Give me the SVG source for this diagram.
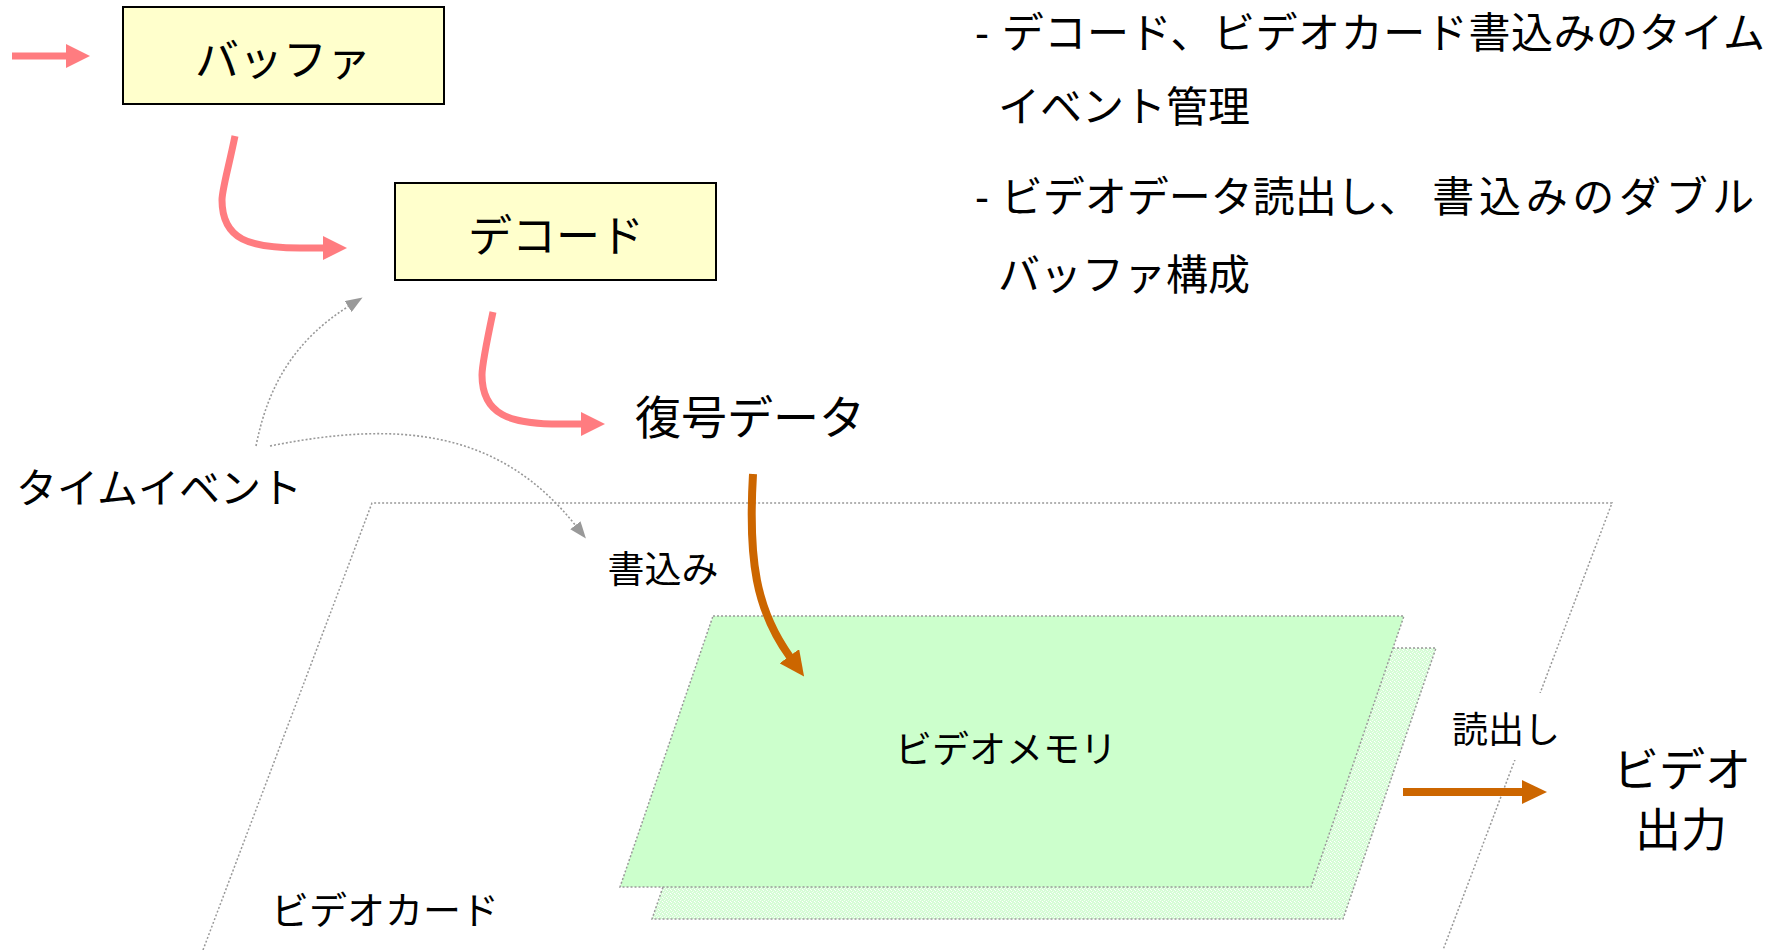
<svg xmlns="http://www.w3.org/2000/svg" width="1778" height="950" viewBox="0 0 1778 950">
<defs>
<style>
text{font-family:"Noto Sans CJK JP","Noto Sans",sans-serif;fill:#000}
.lbl{text-anchor:middle}
.box{fill:#FFFFCC;stroke:#000;stroke-width:2}
.dot{fill:none;stroke:#999;stroke-width:1.5;stroke-dasharray:2 2}
.pink{fill:none;stroke:#FF7C80;stroke-width:7}
.orng{fill:none;stroke:#CC6600;stroke-width:8}
.gray{fill:none;stroke:#999;stroke-width:1.6;stroke-dasharray:2 2}
.bul{font-family:"Liberation Sans","Noto Sans CJK JP",sans-serif}
</style>
<marker id="mp" viewBox="0 0 24 24" markerWidth="24" markerHeight="24" refX="1" refY="12" orient="auto" markerUnits="userSpaceOnUse"><path d="M0,0 L24,12 L0,24 z" fill="#FF7C80"/></marker>
<marker id="mo" viewBox="0 0 25 24" markerWidth="25" markerHeight="24" refX="1" refY="12" orient="auto" markerUnits="userSpaceOnUse"><path d="M0,0 L25,12 L0,24 z" fill="#CC6600"/></marker>
<marker id="mg" viewBox="0 0 17 13" markerWidth="17" markerHeight="13" refX="1" refY="6.5" orient="auto" markerUnits="userSpaceOnUse"><path d="M0,0 L17,6.5 L0,13 z" fill="#999"/></marker>
<pattern id="tex" width="4" height="4" patternUnits="userSpaceOnUse"><rect width="4" height="4" fill="#D6FCD6"/><rect x="0" y="0" width="1" height="1" fill="#F4FFF4"/><rect x="2" y="1" width="1" height="1" fill="#FFFFFF"/><rect x="1" y="3" width="1" height="1" fill="#EEFFEE"/><rect x="3" y="2" width="1" height="1" fill="#F8FFF8"/></pattern>
</defs>
<rect width="1778" height="950" fill="#fff"/>

<g id="videocard">
<polyline class="dot" points="203,950 372,503 1612,503 1443,950"/>
<text class="lbl" x="385" y="924" font-size="38">ビデオカード</text>
</g>

<g id="videomemory">
<polygon points="745,648 1436,648 1343,919 652,919" fill="url(#tex)" stroke="#999" stroke-width="1.5" stroke-dasharray="2 2"/>
<polygon points="713,616 1404,616 1311,887 620,887" fill="#CCFFCC" stroke="#999" stroke-width="1.5" stroke-dasharray="2 2"/>
<text class="lbl" x="1006" y="763" font-size="37">ビデオメモリ</text>
</g>

<g id="buffer">
<rect class="box" x="123" y="7" width="321" height="97"/>
<text class="lbl" x="283" y="76" font-size="44">バッファ</text>
</g>

<g id="decode">
<rect class="box" x="395" y="183" width="321" height="97"/>
<text class="lbl" x="556" y="252" font-size="44">デコード</text>
</g>

<g id="decoded">
<text class="lbl" x="750" y="434" font-size="46">復号データ</text>
</g>

<g id="timeevent">
<text class="lbl" x="159" y="503" font-size="41">タイムイベント</text>
</g>

<g id="write">
<text class="lbl" x="663" y="583" font-size="37">書込み</text>
</g>

<g id="readlabel">
<rect x="1445" y="693" width="122" height="67" fill="#fff"/>
<text class="lbl" x="1506" y="743" font-size="36">読出し</text>
</g>

<g id="videoout">
<text class="lbl" x="1682" y="786" font-size="46">ビデオ</text>
<text class="lbl" x="1681" y="846" font-size="46">出力</text>
</g>

<g id="notes">
<text class="bul" x="975" y="48" font-size="42" textLength="790">- デコード、ビデオカード書込みのタイム</text>
<text x="998" y="122" font-size="42">イベント管理</text>
<text class="bul" x="975" y="212" font-size="42">- ビデオデータ読出し、 <tspan textLength="322">書込みのダブル</tspan></text>
<text x="998" y="290" font-size="42">バッファ構成</text>
</g>

<g id="connectors">
<path class="pink" d="M12,56 L67,56" marker-end="url(#mp)"/>
<path class="pink" d="M235,136 C228,170 222,190 222,200 C222,240 250,248 300,248 L324,248" marker-end="url(#mp)"/>
<path class="pink" d="M493,312 C486,345 482,365 482,375 C482,415 510,424 560,424 L582,424" marker-end="url(#mp)"/>
<path class="orng" d="M753,474 C748,560 756,610 790,657" marker-end="url(#mo)"/>
<path class="orng" d="M1403,792 L1523,792" marker-end="url(#mo)"/>
<path class="gray" d="M256,446 C268,385 295,340 349,306" marker-end="url(#mg)"/>
<path class="gray" d="M270,446 C400,420 500,430 576,526" marker-end="url(#mg)"/>
</g>
</svg>
